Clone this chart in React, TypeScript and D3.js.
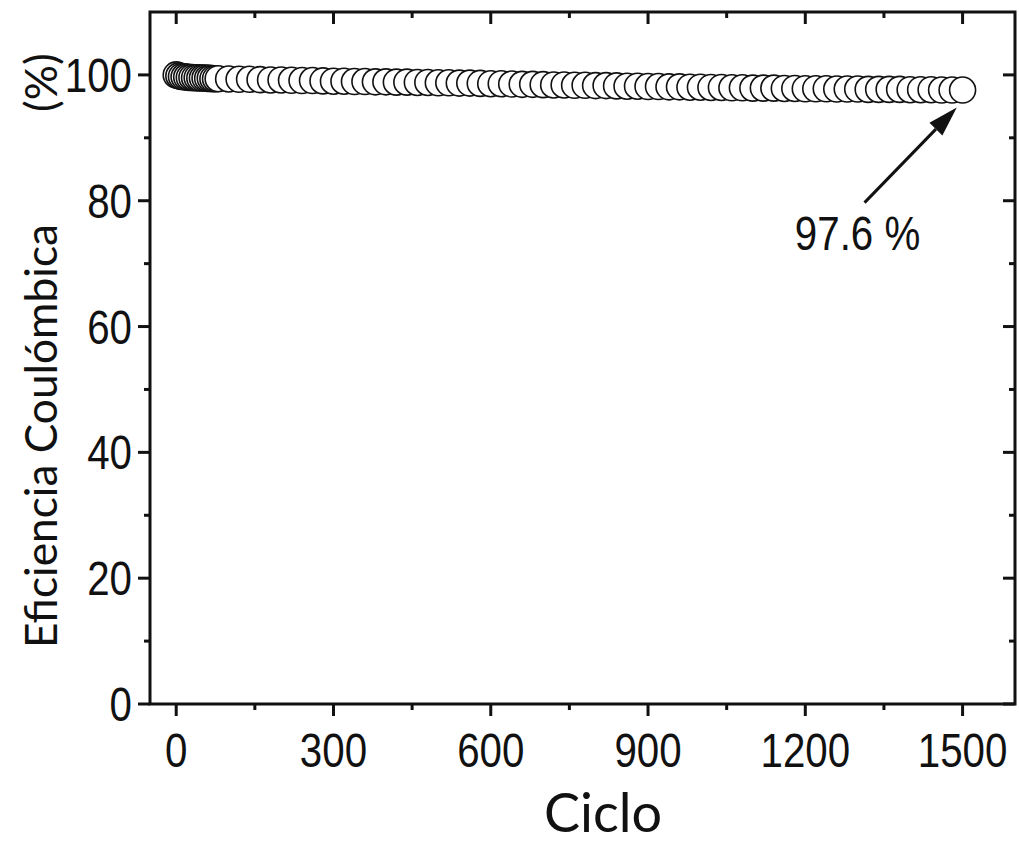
import React from "react";
import * as d3 from "d3";

const cycles: number[] = [
  0, 5, 10, 15, 20, 25, 30, 35, 40, 45, 50, 55, 60, 65, 70, 75, 80,
  100, 120, 140, 160, 180, 200, 220, 240, 260, 280, 300, 320, 340, 360, 380,
  400, 420, 440, 460, 480, 500, 520, 540, 560, 580, 600, 620, 640, 660, 680,
  700, 720, 740, 760, 780, 800, 820, 840, 860, 880, 900, 920, 940, 960, 980,
  1000, 1020, 1040, 1060, 1080, 1100, 1120, 1140, 1160, 1180, 1200, 1220, 1240,
  1260, 1280, 1300, 1320, 1340, 1360, 1380, 1400, 1420, 1440, 1460, 1480, 1500,
];
const efficiency: number[] = [
  100.0, 99.85, 99.75, 99.7, 99.65, 99.6, 99.6, 99.55, 99.55, 99.5, 99.5, 99.5, 99.45, 99.45, 99.4, 99.4, 99.4,
  99.35, 99.3, 99.3, 99.25, 99.2, 99.2, 99.15, 99.1, 99.1, 99.05, 99.0, 99.0, 98.95, 98.95, 98.9,
  98.9, 98.85, 98.85, 98.8, 98.8, 98.75, 98.75, 98.7, 98.7, 98.65, 98.6, 98.6, 98.55, 98.5, 98.5,
  98.45, 98.4, 98.4, 98.35, 98.35, 98.3, 98.3, 98.25, 98.2, 98.2, 98.15, 98.15, 98.1, 98.1, 98.05,
  98.05, 98.0, 98.0, 97.95, 97.95, 97.9, 97.9, 97.9, 97.85, 97.85, 97.8, 97.8, 97.8,
  97.75, 97.75, 97.75, 97.7, 97.7, 97.7, 97.7, 97.65, 97.65, 97.65, 97.6, 97.6, 97.6,
];
const xTicks: number[] = [0, 300, 600, 900, 1200, 1500];
const xMinor: number[] = [150, 450, 750, 1050, 1350];
const yTicks: number[] = [0, 20, 40, 60, 80, 100];
const yMinor: number[] = [10, 30, 50, 70, 90];
const annotationText = "97.6 %";
const arrowFrom: [number, number] = [1313, 79.7];
const arrowTo: [number, number] = [1489, 94.8];
const labelAt: [number, number] = [1180, 72.2];

const W = 1019, H = 848;
const L = 150, R = 1015, T = 12, B = 704;

export default function App() {
  const x = d3.scaleLinear().domain([-50, 1600]).range([L, R]);
  const y = d3.scaleLinear().domain([0, 110]).range([B, T]);
  const tickFont = "'Liberation Sans', Arial, sans-serif";
  const titleFont = "Lato, 'Open Sans', sans-serif";
  const sx = 0.84;
  const sw = 3;

  // arrow geometry
  const ax0 = x(arrowFrom[0]), ay0 = y(arrowFrom[1]);
  const ax1 = x(arrowTo[0]), ay1 = y(arrowTo[1]);
  const ang = Math.atan2(ay1 - ay0, ax1 - ax0);
  const headLen = 30, headW = 9;
  const bx = ax1 - headLen * Math.cos(ang), by = ay1 - headLen * Math.sin(ang);
  const px = -Math.sin(ang) * headW, py = Math.cos(ang) * headW;

  return (
    <svg width={W} height={H} style={{ position: "absolute", left: 0, top: 0, background: "#fff" }}>
      <rect x={0} y={0} width={W} height={H} fill="#fff" />
      {/* markers */}
      <g>
        {cycles.map((c, i) => (
          <circle key={i} cx={x(c)} cy={y(efficiency[i])} r={13} fill="#fff" stroke="#111" strokeWidth={1.6} />
        ))}
      </g>
      {/* frame */}
      <rect x={L} y={T} width={R - L} height={B - T} fill="none" stroke="#111" strokeWidth={sw} />
      {/* x ticks bottom (out) and top (in) */}
      {xTicks.map((t) => (
        <g key={"xt" + t}>
          <line x1={x(t)} x2={x(t)} y1={B} y2={B + 12} stroke="#111" strokeWidth={sw} />
          <line x1={x(t)} x2={x(t)} y1={T} y2={T + 12} stroke="#111" strokeWidth={sw} />
          <text transform={`translate(${x(t)},${B + 63}) scale(${sx},1)`} textAnchor="middle" fontFamily={tickFont} fontSize={48} fill="#111">
            {t}
          </text>
        </g>
      ))}
      {xMinor.map((t) => (
        <g key={"xm" + t}>
          <line x1={x(t)} x2={x(t)} y1={B} y2={B + 6} stroke="#111" strokeWidth={sw} />
          <line x1={x(t)} x2={x(t)} y1={T} y2={T + 6} stroke="#111" strokeWidth={sw} />
        </g>
      ))}
      {/* y ticks left (out) and right (in) */}
      {yTicks.map((t) => (
        <g key={"yt" + t}>
          <line x1={L - 12} x2={L} y1={y(t)} y2={y(t)} stroke="#111" strokeWidth={sw} />
          <line x1={R - 12} x2={R} y1={y(t)} y2={y(t)} stroke="#111" strokeWidth={sw} />
          <text transform={`translate(${L - 18},${y(t) + 17}) scale(${sx},1)`} textAnchor="end" fontFamily={tickFont} fontSize={48} fill="#111">
            {t}
          </text>
        </g>
      ))}
      {yMinor.map((t) => (
        <g key={"ym" + t}>
          <line x1={L - 6} x2={L} y1={y(t)} y2={y(t)} stroke="#111" strokeWidth={sw} />
          <line x1={R - 6} x2={R} y1={y(t)} y2={y(t)} stroke="#111" strokeWidth={sw} />
        </g>
      ))}
      {/* annotation */}
      <line x1={ax0} y1={ay0} x2={bx} y2={by} stroke="#111" strokeWidth={3} />
      <polygon points={`${ax1},${ay1} ${bx + px},${by + py} ${bx - px},${by - py}`} fill="#111" />
      <text transform={`translate(${x(labelAt[0])},${y(labelAt[1])}) scale(${sx},1)`} fontFamily={tickFont} fontSize={48} fill="#111">
        {annotationText}
      </text>
      {/* axis titles */}
      <text x={603} y={832} textAnchor="middle" fontFamily={titleFont} fontSize={54} fill="#111">
        Ciclo
      </text>
      <text transform={`translate(57,648) rotate(-90)`} fontFamily={titleFont} fontSize={44} fill="#111" textLength={424} lengthAdjust="spacingAndGlyphs">
        Eficiencia Coulómbica
      </text>
      <text transform={`translate(57,112) rotate(-90)`} fontFamily={titleFont} fontSize={44} fill="#111">
        (%)
      </text>
    </svg>
  );
}
